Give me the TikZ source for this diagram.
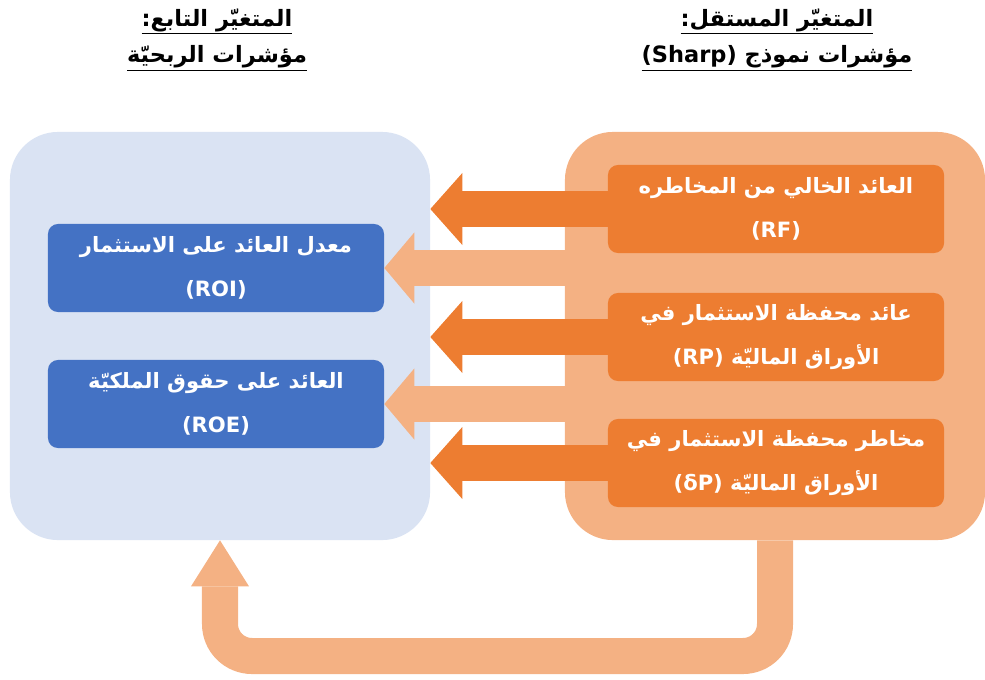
\documentclass[tikz,border=0pt]{standalone}
\usepackage{fontspec}
\usepackage{tikz}
\usetikzlibrary{arrows.meta}
\newfontfamily\arabicfont[Script=Arabic]{DejaVu Sans}
\TeXXeTstate=1
\definecolor{panelblue}{HTML}{DAE3F3}
\definecolor{boxblue}{HTML}{4472C4}
\definecolor{boxorange}{HTML}{ED7D31}
\definecolor{panelorange}{HTML}{F4B183}

\begin{document}
\begin{tikzpicture}[
        x=0.025cm, y=-0.025cm,
        font=\arabicfont\bfseries\fontsize{15}{31}\selectfont,
        panel/.style={
            rounded corners=1.2cm,
            minimum width=10.5cm,
            minimum height=10.2cm,
            inner sep=0pt
        },
        item/.style={
            rounded corners=0.25cm,
            align=center,
            text=white,
            minimum width=8.4cm,
            minimum height=2.2cm,
            inner sep=0pt
        },
        title/.style={align=center, text=black, font=\arabicfont\bfseries\fontsize{16}{26}\selectfont},
        strongarrow/.style={draw=boxorange, line width=0.9cm, -{Triangle[length=0.8cm, width=1.8cm, line width=0pt]}},
        softarrow/.style={draw=panelorange, line width=0.9cm, -{Triangle[length=0.75cm, width=1.78cm, line width=0pt]}},
        loopback/.style={draw=panelorange, line width=0.9cm, rounded corners=0.8cm, -{Triangle[length=1.15cm, width=1.45cm, line width=0pt]}}
    ]

    \useasboundingbox (0,0) rectangle (985,679);

    \node[title] (deptitle) at (217,40) {\underline{\beginR المتغيّر التابع:\endR}\\\underline{\beginR مؤشرات الربحيّة\endR}};
    \node[title] (indeptitle) at (777,40) {\underline{\beginR المتغيّر المستقل:\endR}\\\underline{\beginR مؤشرات نموذج \beginL(Sharp)\endL\endR}};

    \node[panel, fill=panelblue] (dep) at (220,336) {};
    \node[panel, fill=panelorange] (indep) at (775,336) {};

    \node[item, fill=boxblue] (roi) at (216,268) {\beginR معدل العائد على الاستثمار\endR\\(ROI)};
    \node[item, fill=boxblue] (roe) at (216,404) {\beginR العائد على حقوق الملكيّة\endR\\(ROE)};

    \node[item, fill=boxorange] (rf) at (776,209) {\beginR العائد الخالي من المخاطره\endR\\(RF)};
    \node[item, fill=boxorange] (rp) at (776,337) {\beginR عائد محفظة الاستثمار في\endR\\\beginR الأوراق الماليّة \beginL(RP)\endL\endR};
    \node[item, fill=boxorange] (dp) at (776,463) {\beginR مخاطر محفظة الاستثمار في\endR\\\beginR الأوراق الماليّة \beginL(δP)\endL\endR};

    \draw[strongarrow] (rf.west) -- (rf.west -| dep.east);
    \draw[strongarrow] (rp.west) -- (rp.west -| dep.east);
    \draw[strongarrow] (dp.west) -- (dp.west -| dep.east);

    \draw[softarrow] (roi.east -| indep.west) -- (roi.east);
    \draw[softarrow] (roe.east -| indep.west) -- (roe.east);

    \coordinate (loopbase) at (0,656);
    \draw[loopback] (indep.south) -- (indep.south |- loopbase) -- (dep.south |- loopbase) -- (dep.south);

    \end{tikzpicture}
\end{document}
